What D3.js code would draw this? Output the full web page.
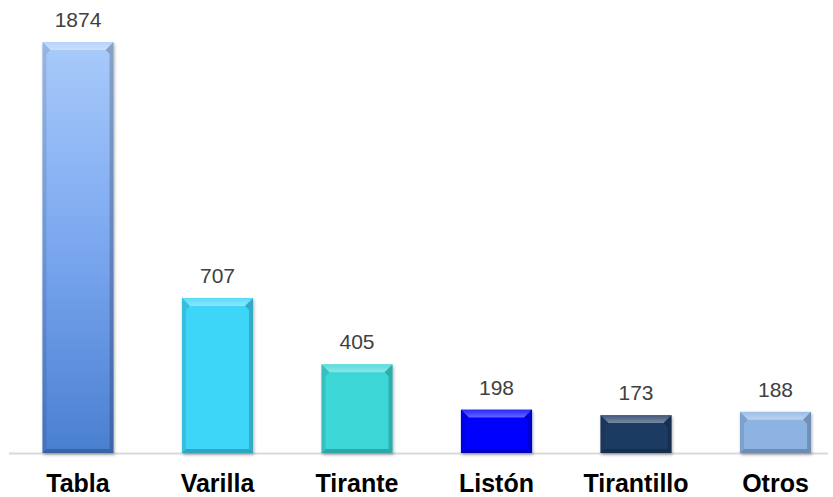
<!DOCTYPE html>
<html>
<head>
<meta charset="utf-8">
<script src="https://cdn.jsdelivr.net/npm/d3@7"></script>
<style>
  body { margin: 0; background: #fff; }
  svg { display: block; }
</style>
</head>
<body>
<svg id="chart"></svg>
<script>
(function() {

  var categories = ["Tabla", "Varilla", "Tirante", "Listón", "Tirantillo", "Otros"];
  var values = [1874, 707, 405, 198, 173, 188];
  var colors = ["#7aa7ef", "#3dd5f8", "#3dd6d6", "#0000ff", "#1f3b63", "#8db3e2"];

  var width = 833,
      height = 497,
      baseline = 453;

  var svg = d3.select("#chart")
      .attr("width", width)
      .attr("height", height);

  var defs = svg.append("defs");

  // Tabla has a vertical light-to-dark gradient
  var grad = defs.append("linearGradient")
      .attr("id", "grad0")
      .attr("x1", 0).attr("y1", 0)
      .attr("x2", 0).attr("y2", 1);
  grad.append("stop").attr("offset", "0%").attr("stop-color", "#a9cbfb");
  grad.append("stop").attr("offset", "50%").attr("stop-color", "#7aa7ef");
  grad.append("stop").attr("offset", "100%").attr("stop-color", "#4a7fd0");

  var topGrad = defs.append("linearGradient")
      .attr("id", "topbevel")
      .attr("x1", 0).attr("y1", 0)
      .attr("x2", 0).attr("y2", 1);
  topGrad.append("stop").attr("offset", "0%").attr("stop-color", "#fff").attr("stop-opacity", 0.15);
  topGrad.append("stop").attr("offset", "100%").attr("stop-color", "#fff").attr("stop-opacity", 0.4);

  var shadow = defs.append("filter")
      .attr("id", "shadow")
      .attr("x", "-20%").attr("y", "-20%")
      .attr("width", "140%").attr("height", "140%");
  shadow.append("feDropShadow")
      .attr("dx", 1).attr("dy", 2)
      .attr("stdDeviation", 1.5)
      .attr("flood-color", "#000")
      .attr("flood-opacity", 0.3);

  var x = d3.scaleBand()
      .domain(categories)
      .range([8.25, 845.25])
      .paddingInner(0.49)
      .paddingOuter(0.245);

  var y = d3.scaleLinear()
      .domain([0, 1874])
      .range([baseline, 42]);

  // axis line
  svg.append("line")
      .attr("x1", 9)
      .attr("x2", 828)
      .attr("y1", baseline + 0.5)
      .attr("y2", baseline + 0.5)
      .attr("stroke", "#d9d9d9")
      .attr("stroke-width", 2);

  var data = categories.map((c, i) => ({ name: c, value: values[i], color: colors[i], i: i }));

  var bars = svg.append("g")
    .selectAll("g").data(data).enter().append("g")
      .attr("filter", "url(#shadow)");

  bars.append("rect")
      .attr("x", d => x(d.name))
      .attr("y", d => y(d.value))
      .attr("width", x.bandwidth())
      .attr("height", d => baseline - y(d.value))
      .attr("fill", d => d.i === 0 ? "url(#grad0)" : d.color);

  var bevel = 8, side = 4;

  function poly(pts) {
    return "M" + pts.map(p => p.join(",")).join("L") + "Z";
  }

  // top bevel, lighter
  bars.append("path")
      .attr("d", d => {
        var x0 = x(d.name), x1 = x0 + x.bandwidth(), y0 = y(d.value);
        return poly([[x0, y0], [x1, y0], [x1 - bevel, y0 + bevel], [x0 + bevel, y0 + bevel]]);
      })
      .attr("fill", "url(#topbevel)");

  // side bevels, darker
  bars.append("path")
      .attr("d", d => {
        var x0 = x(d.name), y0 = y(d.value);
        return poly([[x0, y0], [x0 + bevel, y0 + bevel], [x0 + side, y0 + bevel + side], [x0 + side, baseline - side], [x0, baseline]]);
      })
      .attr("fill", "#000")
      .attr("opacity", 0.1);

  bars.append("path")
      .attr("d", d => {
        var x1 = x(d.name) + x.bandwidth(), y0 = y(d.value);
        return poly([[x1, y0], [x1 - bevel, y0 + bevel], [x1 - side, y0 + bevel + side], [x1 - side, baseline - side], [x1, baseline]]);
      })
      .attr("fill", "#000")
      .attr("opacity", 0.2);

  // bottom bevel
  bars.append("path")
      .attr("d", d => {
        var x0 = x(d.name), x1 = x0 + x.bandwidth();
        return poly([[x0, baseline], [x0 + side, baseline - side], [x1 - side, baseline - side], [x1, baseline]]);
      })
      .attr("fill", "#000")
      .attr("opacity", 0.22);

  // value labels
  svg.append("g")
    .selectAll("text").data(data).enter().append("text")
      .attr("x", d => x(d.name) + x.bandwidth() / 2)
      .attr("y", d => y(d.value) - 15)
      .attr("text-anchor", "middle")
      .style("font", "21px 'Liberation Sans', Arial, sans-serif")
      .attr("fill", "#404040")
      .text(d => d.value);

  // category labels
  svg.append("g")
    .selectAll("text").data(data).enter().append("text")
      .attr("x", d => x(d.name) + x.bandwidth() / 2)
      .attr("y", 492)
      .attr("text-anchor", "middle")
      .style("font", "bold 25px 'Liberation Sans', Arial, sans-serif")
      .attr("fill", "#000")
      .text(d => d.name);

})();
</script>
</body>
</html>
